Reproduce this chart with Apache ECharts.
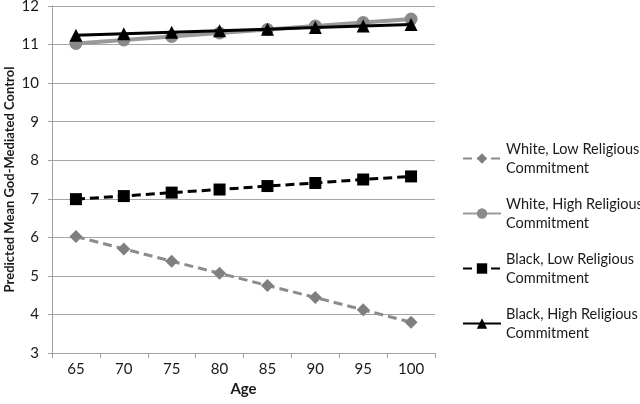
<!DOCTYPE html>
<html>
<head>
<meta charset="utf-8">
<script src="https://cdn.jsdelivr.net/npm/echarts@6/dist/echarts.min.js"></script>
<style>html,body{margin:0;padding:0;background:#fff}#c{width:640px;height:404px}</style>
</head>
<body>
<div id="c"></div>
<script>
const ages = ['65', '70', '75', '80', '85', '90', '95', '100'];
const whiteLow = [6.02, 5.70, 5.38, 5.07, 4.75, 4.44, 4.12, 3.80];
const whiteHigh = [11.03, 11.12, 11.21, 11.30, 11.39, 11.48, 11.57, 11.66];
const blackLow = [6.99, 7.07, 7.16, 7.24, 7.33, 7.41, 7.50, 7.58];
const blackHigh = [11.24, 11.28, 11.32, 11.36, 11.40, 11.44, 11.48, 11.52];
const seriesNames = ['White, Low Religious Commitment', 'White, High Religious Commitment', 'Black, Low Religious Commitment', 'Black, High Religious Commitment'];

const font = 'Lato, "Open Sans", sans-serif';
const chart = echarts.init(document.getElementById('c'), null, {renderer: 'canvas'});
chart.setOption({
  animation: false,
  backgroundColor: '#fff',
  textStyle: {fontFamily: font},
  grid: {left: 52, right: 205, top: 6, bottom: 51, containLabel: false, outerBoundsMode: 'none'},
  legend: {
    orient: 'vertical',
    left: 457,
    top: 126,
    itemWidth: 38,
    itemHeight: 13,
    itemGap: 0,
    formatter: n => n.replace(' Commitment', '\nCommitment'),
    textStyle: {fontFamily: font, fontSize: 14.5, color: '#1a1a1a', lineHeight: 19, padding: [17, 0, 0, 0]},
    data: seriesNames
  },
  xAxis: {
    type: 'category',
    data: ages,
    boundaryGap: true,
    name: 'Age',
    nameLocation: 'middle',
    nameGap: 29,
    nameMoveOverlap: false,
    nameTextStyle: {fontFamily: font, fontSize: 15, fontWeight: 'bold', color: '#1a1a1a'},
    axisLine: {lineStyle: {color: '#a0a0a0', width: 1}},
    axisTick: {show: true, alignWithLabel: false, length: 5, lineStyle: {color: '#a0a0a0'}},
    axisLabel: {fontFamily: font, fontSize: 15, color: '#1a1a1a', margin: 9}
  },
  yAxis: {
    type: 'value',
    min: 3, max: 12, interval: 1,
    name: 'Predicted Mean God-Mediated Control',
    nameLocation: 'middle',
    nameGap: 36,
    nameMoveOverlap: false,
    nameTextStyle: {fontFamily: font, fontSize: 13, fontWeight: 'bold', color: '#1a1a1a'},
    axisLine: {show: true, lineStyle: {color: '#a0a0a0', width: 1}},
    axisTick: {show: true, length: 4, lineStyle: {color: '#a0a0a0'}},
    axisLabel: {fontFamily: font, fontSize: 15, color: '#1a1a1a', margin: 13},
    splitLine: {show: true, lineStyle: {color: '#a6a6a6', width: 1}}
  },
  series: [
    {name: seriesNames[0], type: 'line', data: whiteLow, symbol: 'diamond', symbolSize: 13,
     lineStyle: {color: '#8c8c8c', width: 3, type: [9, 5]}, itemStyle: {color: '#7f7f7f'}, z: 3},
    {name: seriesNames[1], type: 'line', data: whiteHigh, symbol: 'circle', symbolSize: 13,
     lineStyle: {color: '#9a9a9a', width: 4}, itemStyle: {color: '#8a8a8a'}, z: 2},
    {name: seriesNames[2], type: 'line', data: blackLow, symbol: 'rect', symbolSize: 12,
     lineStyle: {color: '#000', width: 3, type: [9, 5]}, itemStyle: {color: '#000'}, z: 3},
    {name: seriesNames[3], type: 'line', data: blackHigh, symbol: 'triangle', symbolSize: 13,
     lineStyle: {color: '#000', width: 3}, itemStyle: {color: '#000'}, z: 4}
  ]
});
</script>
</body>
</html>
